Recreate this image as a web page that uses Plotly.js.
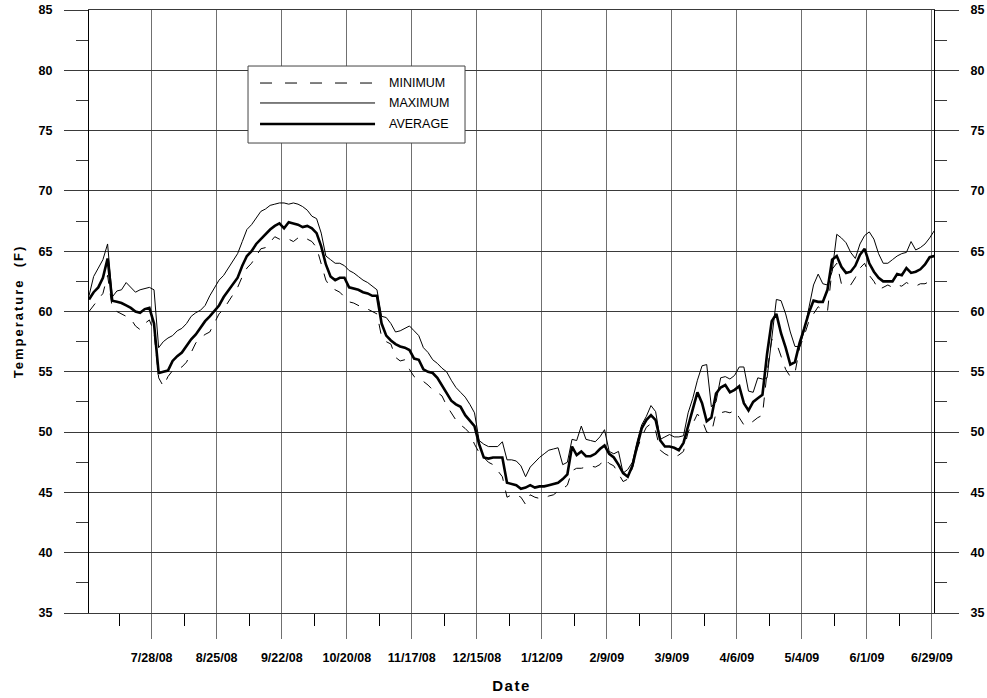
<!DOCTYPE html>
<html>
<head>
<meta charset="utf-8">
<script src="https://cdn.plot.ly/plotly-3.0.1.min.js"></script>
<style>
html,body{margin:0;padding:0;background:#fff;}
#chart{width:987px;height:698px;}
</style>
</head>
<body>
<div id="chart"></div>
<script>
// Sample dates: every 2 days starting 7/1/08
const startDate = [2008, 6, 1];
const stepDays = 2;

const minimumTemp = [
60.0,60.5,61.1,61.5,63.0,60.3,60.0,59.8,59.6,59.4,58.8,58.5,59.0,59.3,58.3,54.5,53.8,54.6,55.1,55.2,
55.4,55.8,56.6,57.4,57.8,58.1,58.3,59.0,59.8,60.2,60.8,61.5,62.0,62.9,63.6,64.0,64.6,65.2,65.3,65.8,
66.2,66.0,66.1,66.0,65.8,66.1,65.9,66.0,65.8,65.3,64.0,62.6,62.0,61.8,61.6,61.2,60.8,60.7,60.5,60.3,
60.2,60.0,59.8,57.9,57.5,57.3,56.2,55.9,56.0,55.2,54.6,54.4,54.2,53.9,53.5,53.3,53.0,52.2,51.6,51.0,
50.6,50.3,49.9,49.0,48.3,47.9,47.5,47.3,46.8,46.3,44.6,44.8,44.8,44.6,44.0,44.8,44.6,44.5,44.5,44.7,
44.8,45.1,45.3,45.6,46.8,47.0,47.0,47.1,47.2,47.1,47.3,47.8,47.4,47.2,46.5,45.9,46.1,47.0,48.6,49.6,
50.4,50.7,50.1,48.5,48.2,48.0,47.9,48.1,48.4,50.0,50.7,51.5,51.0,50.0,49.9,51.6,51.6,51.7,51.6,51.8,
51.2,50.6,50.6,50.9,51.2,51.4,55.0,57.7,57.4,56.3,55.2,54.6,54.9,57.0,58.0,59.2,59.8,60.4,60.1,60.0,
63.5,64.0,62.3,62.1,62.2,62.8,63.6,64.0,63.0,62.5,61.8,62.0,62.2,62.0,62.2,62.1,62.4,62.2,62.1,62.3,
62.3,62.5,62.9
];

const maximumTemp = [
61.3,62.9,63.6,64.3,65.6,61.2,61.7,61.8,62.4,62.0,61.6,61.8,61.9,62.0,61.8,57.0,57.5,57.8,58.0,58.4,
58.6,59.0,59.6,59.9,60.1,60.5,61.3,61.9,62.6,63.0,63.6,64.3,64.8,65.8,66.8,67.2,67.7,68.3,68.5,68.8,
68.9,69.0,69.0,68.9,69.0,68.9,68.7,68.4,67.9,67.7,66.5,64.6,64.3,64.0,64.0,63.8,63.4,63.2,62.9,62.6,
62.4,62.1,61.8,59.6,59.5,59.0,58.3,58.4,58.6,58.8,58.4,58.0,57.0,56.6,56.0,55.7,55.3,55.0,54.3,53.7,
53.3,52.9,52.3,51.6,49.3,49.0,48.8,48.8,48.8,49.2,47.7,47.7,47.6,47.2,46.3,47.1,47.5,47.9,48.2,48.5,
48.6,48.7,47.3,47.5,49.4,49.3,50.5,49.4,49.3,49.2,49.6,50.2,48.4,48.2,48.4,46.6,46.9,47.5,49.2,50.6,
51.3,52.2,51.7,49.4,49.6,49.8,49.6,49.6,49.7,51.6,52.8,54.3,55.5,55.6,52.1,52.5,54.5,54.6,54.4,54.7,
55.4,55.4,53.4,53.3,54.5,54.4,54.5,57.8,61.0,60.9,59.8,58.3,57.1,57.1,58.4,60.3,62.2,63.1,62.3,62.2,
63.3,66.4,66.1,65.7,64.9,64.4,65.6,66.3,66.6,66.0,64.8,64.0,64.0,64.3,64.6,64.8,64.9,65.8,65.1,65.3,
65.6,66.1,66.7,66.9
];

const averageTemp = [
61.0,61.6,62.0,62.8,64.4,60.9,60.8,60.7,60.5,60.3,60.0,59.9,60.2,60.3,59.0,54.9,55.0,55.1,55.9,56.3,
56.6,57.2,57.7,58.1,58.7,59.2,59.6,60.1,60.5,61.2,61.7,62.2,62.8,63.8,64.6,65.0,65.6,66.0,66.4,66.8,
67.1,67.3,66.9,67.4,67.3,67.2,67.0,67.1,66.9,66.5,65.4,63.9,62.9,62.6,62.8,62.8,62.0,61.9,61.8,61.6,
61.5,61.3,61.3,59.0,58.0,57.6,57.3,57.1,57.0,56.8,56.1,56.0,55.2,55.0,54.9,54.5,53.9,53.2,52.6,52.3,
52.1,51.4,50.9,50.5,49.0,47.9,47.8,47.9,47.9,47.9,45.8,45.7,45.6,45.3,45.4,45.6,45.4,45.5,45.5,45.6,
45.7,45.8,46.1,46.5,48.8,48.1,48.4,48.0,48.0,48.2,48.6,48.9,48.2,47.9,47.3,46.6,46.3,47.2,48.8,50.3,
51.0,51.4,51.0,49.3,48.8,48.8,48.7,48.5,49.1,50.5,51.9,53.3,52.4,50.9,51.2,53.2,53.7,53.9,53.3,53.5,
53.8,52.4,51.8,52.5,52.8,53.1,56.5,59.2,59.8,58.2,57.0,55.6,55.8,57.4,58.6,59.9,60.9,60.8,60.8,61.8,
64.3,64.6,63.7,63.2,63.3,63.8,64.7,65.2,64.0,63.3,62.8,62.5,62.5,62.5,63.1,63.0,63.6,63.2,63.3,63.5,
63.9,64.5,64.6
];

const seriesNames = ['MINIMUM', 'MAXIMUM', 'AVERAGE'];
const xTickDates = ['2008-07-28','2008-08-25','2008-09-22','2008-10-20','2008-11-17','2008-12-15',
  '2009-01-12','2009-02-09','2009-03-09','2009-04-06','2009-05-04','2009-06-01','2009-06-29'];
const xTickLabels = ['7/28/08','8/25/08','9/22/08','10/20/08','11/17/08','12/15/08',
  '1/12/09','2/9/09','3/9/09','4/6/09','5/4/09','6/1/09','6/29/09'];

function mkDates(n) {
  const out = [];
  for (let i = 0; i < n; i++) {
    const d = new Date(Date.UTC(startDate[0], startDate[1], startDate[2] + i * stepDays));
    out.push(d.toISOString().slice(0, 10));
  }
  return out;
}

const FONT = 'Arial, "Liberation Sans", Helvetica, sans-serif';
const gridV = '#707070';
const gridH = '#3a3a3a';

const traces = [
  {x: mkDates(minimumTemp.length), y: minimumTemp, name: seriesNames[0], type: 'scatter', mode: 'lines',
   line: {color: '#000', width: 1, dash: '10px,10px'}},
  {x: mkDates(maximumTemp.length), y: maximumTemp, name: seriesNames[1], type: 'scatter', mode: 'lines',
   line: {color: '#000', width: 1}},
  {x: mkDates(averageTemp.length), y: averageTemp, name: seriesNames[2], type: 'scatter', mode: 'lines',
   line: {color: '#000', width: 2.6}},
  {x: [], y: [], yaxis: 'y2', showlegend: false, hoverinfo: 'skip', type: 'scatter', mode: 'lines'}
];

// custom legend box (paper coordinates)
const L = {x0: 0.1882, x1: 0.445, y0: 0.7794, y1: 0.9071, lx0: 0.2024, lx1: 0.3385, tx: 0.3527,
           rows: [0.8789, 0.8458, 0.8109]};
const legendStyles = [
  {color: '#000', width: 1, dash: '12px,13px'},
  {color: '#000', width: 1},
  {color: '#000', width: 2.6}
];
const shapes = [
  {type: 'rect', xref: 'paper', yref: 'paper', x0: L.x0, x1: L.x1, y0: L.y0, y1: L.y1,
   fillcolor: '#fff', line: {color: '#444', width: 1}, layer: 'above'}
];
const annotations = [];
seriesNames.forEach((nm, i) => {
  shapes.push({type: 'line', xref: 'paper', yref: 'paper', x0: L.lx0, x1: L.lx1, y0: L.rows[i], y1: L.rows[i],
               line: legendStyles[i], layer: 'above'});
  annotations.push({xref: 'paper', yref: 'paper', x: L.tx, y: L.rows[i], xanchor: 'left', yanchor: 'middle',
                    text: nm, showarrow: false, font: {family: FONT, size: 12.5, color: '#000'}});
});

const tickFont = {family: FONT, size: 12.5, color: '#000', weight: 'bold'};

const layout = {
  width: 987, height: 698,
  margin: {l: 89, r: 53, t: 10, b: 85},
  paper_bgcolor: '#fff', plot_bgcolor: '#fff',
  showlegend: false,
  xaxis: {
    type: 'date',
    range: ['2008-07-01', '2009-06-29 21:00'],
    tickmode: 'array', tickvals: xTickDates, ticktext: xTickLabels,
    ticks: 'outside', ticklen: 25, tickcolor: gridV, tickwidth: 1,
    showgrid: true, gridcolor: gridV, gridwidth: 1,
    showline: true, linecolor: gridH, linewidth: 1, mirror: true,
    zeroline: false,
    tickfont: tickFont, ticklabelstandoff: 8,
    minor: {tick0: '2008-07-14', dtick: 14 * 86400000, ticks: 'outside', ticklen: 12, tickcolor: '#000', showgrid: false},
    title: {text: 'Date', font: {family: FONT, size: 15, color: '#000', weight: 'bold'}, standoff: 16},
    automargin: false
  },
  yaxis: {
    range: [35, 85], tick0: 35, dtick: 5,
    ticks: 'outside', ticklen: 24, tickcolor: gridH, tickwidth: 1,
    showgrid: true, gridcolor: gridH, gridwidth: 1,
    showline: true, linecolor: '#000', linewidth: 1,
    zeroline: false,
    tickfont: tickFont, ticklabelstandoff: 9,
    minor: {tick0: 37.5, dtick: 5, ticks: 'outside', ticklen: 12, tickcolor: gridH, showgrid: false},
    title: {text: 'Temperature  (F)', font: {family: FONT, size: 13, color: '#000', weight: 'bold'}, standoff: 12},
    automargin: false
  },
  yaxis2: {
    overlaying: 'y', side: 'right', anchor: 'x',
    range: [35, 85], tick0: 35, dtick: 5,
    ticks: 'outside', ticklen: 24, tickcolor: gridH, tickwidth: 1,
    showgrid: false, showline: true, linecolor: '#000', linewidth: 1,
    zeroline: false,
    tickfont: tickFont, ticklabelstandoff: 9,
    minor: {tick0: 37.5, dtick: 5, ticks: 'outside', ticklen: 12, tickcolor: gridH, showgrid: false},
    automargin: false
  },
  shapes: shapes,
  annotations: annotations
};

Plotly.newPlot('chart', traces, layout, {staticPlot: true, displayModeBar: false}).then(() => {
  const yt = document.querySelector('.ytitle');
  if (yt) yt.style.letterSpacing = '2px';
  const xt = document.querySelector('.xtitle');
  if (xt) xt.style.letterSpacing = '1.5px';
});
</script>
</body>
</html>
